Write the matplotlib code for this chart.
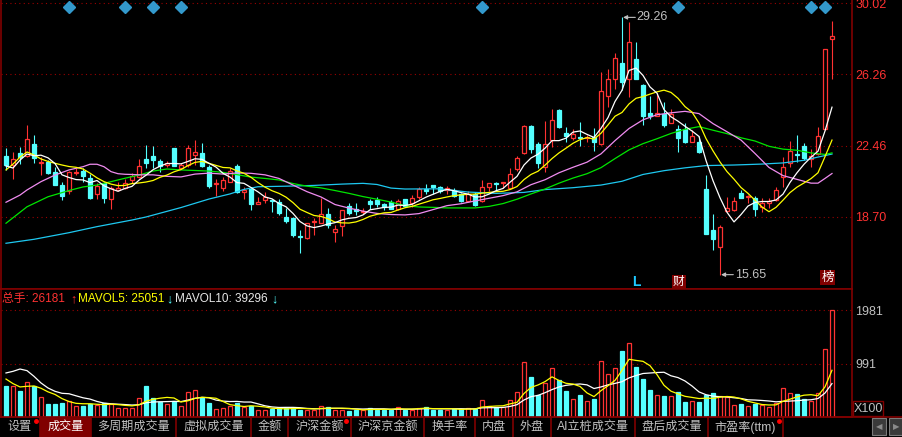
import numpy as np
import matplotlib
matplotlib.use("Agg")
import matplotlib.pyplot as plt
import matplotlib.transforms as mtransforms
from matplotlib.patches import Rectangle
from matplotlib.lines import Line2D

plt.rcParams['font.family'] = ['Liberation Sans', 'Noto Sans CJK SC', 'DejaVu Sans']

# ---- daily candles (price) ----
open_ = np.array([
    21.94, 21.45, 22.09, 21.94, 22.56, 21.56, 21.59, 21.10, 20.39, 20.08,
    21.04, 21.15, 20.75, 19.90, 20.48, 19.65, 20.13, 20.25, 20.66, 20.83,
    21.77, 21.94, 21.66, 21.45, 22.37, 21.31, 21.45, 21.98, 22.07, 21.36,
    20.43, 20.25, 20.57, 21.41, 20.01, 20.18, 19.37, 19.60, 19.58, 19.51,
    18.72, 18.66, 17.69, 17.57, 18.44, 18.37, 18.84, 17.92, 18.24, 19.30,
    19.10, 18.96, 19.55, 19.60, 19.37, 19.48, 19.12, 19.65, 19.46, 19.77,
    20.18, 20.39, 20.27, 20.13, 20.13, 19.92, 19.55, 19.92, 19.55, 20.30,
    20.50, 20.50, 20.25, 21.24, 22.07, 23.51, 22.55, 21.36, 22.77, 24.36,
    23.16, 22.86, 22.93, 22.88, 22.95, 22.55, 25.10, 26.00, 26.86, 25.98,
    27.04, 25.68, 24.19, 24.06, 24.13, 23.66, 23.36, 23.36, 22.65, 22.65,
    20.18, 18.01, 17.13, 19.02, 19.07, 19.99, 19.74, 19.69, 19.25, 19.42,
    19.60, 20.83, 21.57, 22.03, 22.46, 21.77, 22.02, 23.34, 28.10])
high = np.array([
    22.37, 22.14, 22.42, 23.57, 23.04, 21.87, 21.71, 21.36, 20.57, 21.15,
    21.28, 21.28, 20.97, 20.48, 20.57, 20.36, 20.57, 20.69, 21.04, 21.75,
    22.51, 22.46, 21.77, 21.66, 22.37, 21.54, 22.51, 22.77, 22.63, 21.45,
    20.71, 20.83, 21.31, 21.50, 20.27, 20.30, 19.77, 20.02, 19.64, 19.65,
    19.16, 18.72, 18.01, 18.38, 18.63, 19.72, 19.16, 18.28, 19.07, 19.42,
    19.42, 19.16, 19.65, 19.74, 19.42, 19.60, 19.65, 19.65, 19.86, 20.30,
    20.43, 20.39, 20.36, 20.34, 20.25, 19.99, 20.08, 20.01, 20.66, 20.48,
    20.54, 20.57, 21.31, 21.93, 23.57, 23.57, 22.68, 23.79, 24.41, 24.40,
    23.48, 23.34, 23.71, 23.04, 23.42, 26.39, 26.51, 27.39, 29.26, 29.00,
    27.94, 25.74, 25.10, 25.28, 24.80, 24.40, 23.57, 23.66, 23.30, 23.01,
    20.92, 18.86, 18.28, 19.74, 19.74, 20.13, 19.86, 19.83, 19.72, 19.69,
    20.30, 21.89, 22.72, 23.04, 22.60, 22.30, 23.48, 27.57, 29.07])
low = np.array([
    21.19, 20.71, 21.49, 21.89, 21.54, 20.92, 20.97, 20.38, 19.60, 19.90,
    20.92, 20.57, 19.65, 19.65, 19.46, 19.12, 20.08, 20.18, 20.51, 20.78,
    21.31, 21.31, 21.10, 21.36, 21.41, 21.24, 21.36, 21.45, 21.36, 20.25,
    19.83, 20.08, 20.54, 19.95, 19.65, 19.07, 19.37, 19.42, 18.96, 18.81,
    18.40, 17.66, 16.81, 17.54, 17.75, 18.37, 18.10, 17.39, 17.71, 18.81,
    18.81, 18.84, 19.12, 19.21, 19.07, 19.12, 19.07, 19.25, 19.25, 19.64,
    19.92, 19.92, 19.99, 19.90, 19.77, 19.51, 19.51, 19.30, 19.51, 20.09,
    20.08, 20.22, 20.22, 21.15, 22.03, 22.10, 21.28, 21.10, 22.42, 23.42,
    22.68, 22.77, 22.46, 22.68, 22.21, 22.51, 24.53, 25.47, 25.42, 25.06,
    26.00, 23.57, 23.87, 24.04, 23.45, 23.66, 22.12, 22.60, 22.65, 22.07,
    17.78, 16.95, 15.65, 18.98, 19.03, 19.69, 19.46, 18.77, 18.95, 19.16,
    19.55, 20.30, 21.36, 21.63, 21.71, 21.33, 21.98, 23.30, 26.00])
close = np.array([
    21.45, 21.75, 21.89, 22.83, 21.81, 21.61, 21.01, 20.39, 19.83, 21.10,
    21.08, 20.88, 19.72, 20.36, 19.72, 20.25, 20.25, 20.48, 20.88, 21.40,
    21.54, 21.71, 21.41, 21.57, 21.41, 21.45, 22.33, 22.14, 21.41, 20.36,
    20.48, 20.66, 21.13, 20.01, 20.13, 19.37, 19.51, 19.77, 19.53, 18.90,
    18.49, 17.75, 17.64, 18.37, 18.49, 18.84, 18.28, 18.05, 19.07, 18.90,
    19.04, 19.00, 19.39, 19.39, 19.21, 19.12, 19.55, 19.28, 19.69, 20.17,
    20.08, 20.27, 20.08, 20.22, 19.81, 19.55, 19.92, 19.33, 20.27, 20.48,
    20.45, 20.54, 20.96, 21.81, 23.51, 22.28, 21.54, 22.55, 23.83, 23.48,
    22.98, 23.09, 22.88, 22.92, 22.68, 25.37, 25.98, 27.10, 25.86, 27.94,
    26.00, 24.04, 24.06, 24.22, 23.57, 24.13, 22.89, 22.68, 23.01, 22.12,
    17.78, 17.52, 18.19, 19.16, 19.55, 19.72, 19.80, 19.11, 19.42, 19.55,
    20.13, 21.36, 22.19, 21.98, 21.81, 21.94, 23.01, 27.57, 28.27])

# volume (x100)
volume = np.array([
    583, 583, 490, 651, 571, 373, 249, 249, 267, 298,
    205, 212, 249, 218, 261, 249, 175, 175, 175, 354,
    583, 354, 280, 249, 298, 212, 465, 503, 354, 267,
    150, 168, 205, 267, 187, 212, 131, 131, 150, 168,
    169, 169, 137, 137, 137, 212, 193, 137, 137, 119,
    137, 137, 169, 137, 137, 137, 193, 137, 137, 169,
    193, 137, 137, 137, 150, 143, 168, 143, 323, 200,
    187, 187, 323, 465, 1022, 750, 416, 633, 911, 682,
    490, 342, 416, 305, 342, 1041, 800, 911, 1233, 1375,
    936, 713, 509, 404, 385, 385, 465, 280, 305, 280,
    416, 447, 397, 366, 230, 249, 212, 249, 218, 187,
    261, 540, 447, 435, 342, 305, 447, 1264, 1981])

# moving averages
ma5 = np.array([
    21.40, 21.29, 21.71, 22.03, 21.94, 21.97, 21.83, 21.53, 20.93, 20.79,
    20.68, 20.66, 20.52, 20.63, 20.35, 20.19, 20.06, 20.21, 20.32, 20.65,
    20.91, 21.20, 21.39, 21.53, 21.53, 21.51, 21.64, 21.78, 21.75, 21.54,
    21.34, 21.01, 20.81, 20.52, 20.48, 20.26, 20.03, 19.76, 19.66, 19.41,
    19.24, 18.89, 18.46, 18.23, 18.14, 18.22, 18.33, 18.40, 18.55, 18.63,
    18.67, 18.81, 19.08, 19.14, 19.21, 19.22, 19.33, 19.31, 19.37, 19.56,
    19.75, 19.90, 20.05, 20.16, 20.09, 19.99, 19.91, 19.76, 19.77, 19.91,
    20.09, 20.21, 20.54, 20.85, 21.45, 21.82, 22.02, 22.34, 22.74, 22.74,
    22.87, 23.19, 23.25, 23.07, 22.91, 23.39, 23.96, 24.81, 25.40, 26.45,
    26.58, 26.19, 25.58, 25.25, 24.38, 24.00, 23.77, 23.50, 23.25, 22.96,
    21.69, 20.62, 19.72, 18.95, 18.44, 18.83, 19.28, 19.47, 19.52, 19.52,
    19.60, 19.91, 20.53, 21.04, 21.49, 21.86, 22.18, 23.25, 24.51])
ma10 = np.array([
    21.19, 21.50, 21.87, 22.14, 21.98, 21.77, 21.64, 21.54, 21.45, 21.37,
    21.33, 21.24, 21.02, 20.77, 20.57, 20.44, 20.36, 20.37, 20.47, 20.50,
    20.55, 20.63, 20.80, 20.92, 21.09, 21.21, 21.42, 21.59, 21.64, 21.54,
    21.43, 21.32, 21.30, 21.14, 21.01, 20.80, 20.52, 20.28, 20.09, 19.95,
    19.75, 19.46, 19.11, 18.94, 18.78, 18.73, 18.61, 18.43, 18.39, 18.38,
    18.44, 18.57, 18.74, 18.84, 18.92, 18.94, 19.07, 19.19, 19.26, 19.38,
    19.49, 19.61, 19.68, 19.76, 19.83, 19.87, 19.90, 19.91, 19.96, 20.00,
    20.04, 20.06, 20.15, 20.31, 20.68, 20.95, 21.12, 21.44, 21.79, 22.09,
    22.34, 22.60, 22.79, 22.90, 22.82, 23.13, 23.57, 24.03, 24.23, 24.68,
    24.98, 25.07, 25.20, 25.32, 25.41, 25.29, 24.98, 24.54, 24.25, 23.67,
    22.85, 22.20, 21.61, 21.10, 20.70, 20.26, 19.95, 19.59, 19.23, 18.98,
    19.21, 19.59, 19.99, 20.28, 20.50, 20.73, 21.04, 21.89, 22.77])
ma20_idx = [0, 2, 3, 5, 7, 9, 11, 12, 13, 14, 15, 16, 17, 18, 19, 21, 23, 25, 27,
            29, 31, 33, 35, 37, 39, 41, 43, 45, 47, 49, 51, 53, 55, 57, 59, 61,
            63, 65, 67, 69, 71, 73, 75, 77, 79, 81, 83, 85, 87, 89, 91, 93, 95,
            97, 99, 101, 103, 105, 107, 109, 111, 113, 115, 116, 117, 118]
ma20 = [19.48, 19.86, 20.13, 20.57, 20.92, 21.19, 21.36, 21.49, 21.49, 21.36,
        21.10, 20.99, 20.96, 20.95, 20.93, 20.93, 20.85, 20.82, 20.97, 21.02,
        20.97, 21.03, 21.01, 20.93, 20.74, 20.39, 20.04, 19.76, 19.36, 19.17,
        19.01, 18.89, 18.83, 18.81, 18.88, 19.09, 19.30, 19.40, 19.55, 19.69,
        19.83, 20.03, 20.41, 20.67, 21.04, 21.33, 21.60, 22.04, 22.74, 23.38,
        23.84, 24.11, 24.21, 24.29, 24.17, 23.64, 23.21, 22.77, 22.06, 21.32,
        20.89, 20.69, 20.49, 20.49, 20.74, 21.00]
ma30_idx = [0, 3, 6, 9, 11, 13, 15, 17, 19, 21, 23, 25, 27, 29, 31, 33, 35, 37,
            39, 41, 43, 45, 47, 49, 51, 53, 55, 57, 59, 61, 63, 65, 67, 69, 71,
            73, 75, 77, 79, 81, 83, 85, 87, 89, 91, 93, 95, 97, 99, 101, 103,
            105, 107, 109, 111, 113, 115, 117, 118]
ma30 = [18.37, 19.24, 19.77, 20.10, 20.29, 20.39, 20.57, 20.75, 20.92, 21.13,
        21.24, 21.19, 21.16, 21.13, 21.06, 20.94, 20.81, 20.74, 20.66, 20.47,
        20.33, 20.24, 20.10, 19.95, 19.78, 19.64, 19.49, 19.30, 19.23, 19.21,
        19.18, 19.18, 19.18, 19.26, 19.41, 19.64, 19.92, 20.18, 20.49, 20.76,
        20.99, 21.31, 21.79, 22.25, 22.58, 22.84, 23.12, 23.34, 23.48, 23.29,
        23.11, 22.89, 22.72, 22.44, 22.29, 22.23, 22.09, 22.01, 22.09]
ma60_idx = [0, 4, 9, 13, 18, 20, 25, 29, 32, 34, 36, 40, 44, 48, 51, 53, 55, 57,
            62, 66, 70, 74, 77, 81, 85, 88, 91, 94, 97, 100, 104, 108, 111, 114,
            116, 118]
ma60 = [17.31, 17.52, 17.87, 18.19, 18.54, 18.70, 19.20, 19.65, 19.92, 20.16,
        20.30, 20.33, 20.37, 20.44, 20.48, 20.42, 20.23, 20.18, 20.19, 20.02,
        19.95, 20.00, 20.15, 20.25, 20.39, 20.59, 20.95, 21.15, 21.30, 21.42,
        21.45, 21.50, 21.56, 21.70, 21.87, 22.03]

mavol5 = np.array([
    705, 620, 558, 570, 576, 534, 467, 419, 342, 287,
    254, 246, 246, 236, 229, 238, 230, 216, 207, 226,
    292, 328, 349, 364, 353, 279, 301, 345, 366, 360,
    348, 288, 229, 211, 195, 208, 200, 186, 162, 158,
    150, 157, 159, 156, 150, 158, 163, 163, 163, 160,
    145, 133, 140, 140, 143, 143, 155, 148, 148, 155,
    166, 155, 155, 155, 151, 141, 147, 148, 185, 195,
    204, 208, 244, 272, 437, 549, 595, 657, 746, 678,
    626, 612, 568, 447, 379, 489, 581, 680, 865, 1072,
    1051, 1034, 953, 787, 589, 479, 430, 384, 364, 343,
    349, 346, 369, 381, 371, 338, 291, 261, 232, 223,
    225, 291, 331, 374, 405, 414, 395, 559, 868])
mavol10 = np.array([
    818, 848, 891, 861, 755, 632, 539, 477, 440, 432,
    394, 357, 333, 289, 258, 246, 238, 231, 222, 228,
    265, 279, 283, 286, 290, 286, 315, 347, 365, 357,
    314, 295, 287, 289, 278, 278, 244, 208, 187, 177,
    179, 179, 173, 159, 154, 154, 160, 161, 160, 155,
    152, 148, 152, 152, 152, 144, 144, 144, 144, 149,
    155, 155, 152, 152, 153, 154, 151, 152, 170, 173,
    173, 178, 196, 229, 316, 377, 402, 451, 509, 558,
    588, 604, 613, 597, 529, 558, 597, 624, 656, 726,
    770, 808, 817, 826, 831, 765, 732, 669, 576, 466,
    414, 388, 377, 373, 357, 344, 319, 315, 307, 297,
    282, 291, 296, 303, 314, 320, 343, 445, 621])

price_ticks = [30.02, 26.26, 22.46, 18.70]
vol_ticks = [991, 1981]
signal_idx = [9, 17, 21, 25, 68, 96, 115, 117]
hi_idx, lo_idx = 88, 102

tabs = ['设置', '成交量', '多周期成交量', '虚拟成交量', '金额', '沪深金额', '沪深京金额',
        '换手率', '内盘', '外盘', 'AI立桩成交量', '盘后成交量', '市盈率(ttm)']
tab_edges = [0, 40, 91, 176, 251, 288, 351, 424, 475, 513, 551, 635, 708, 783]

RED = '#ff3232'
CYAN = '#54ffff'
DKRED = '#800000'
GRID = '#9a0000'
GRAY = '#c0c0c0'
BODY_W = 0.64

W, H = 903, 437
fig = plt.figure(figsize=(W / 100, H / 100), dpi=100, facecolor='black')

def fx(x):
    return x / W

def fy(y):
    return 1 - y / H

n = len(close)
idx = np.arange(n)
up = close >= open_

ax = fig.add_axes([fx(1), fy(289), 851 / W, 289 / H], facecolor='black')
ax2 = fig.add_axes([fx(1), fy(417), 851 / W, 128 / H], facecolor='black')
for a in (ax, ax2):
    a.set_xlim(-5 / 7, 846 / 7)
    a.set_xticks([])
    for s in a.spines.values():
        s.set_color(DKRED)
        s.set_linewidth(1.2)
    a.spines['top'].set_visible(False)
    a.yaxis.tick_right()
    a.tick_params(axis='y', length=0, pad=2.5, labelsize=9)

ax.set_ylim(14.891, 30.179)
ax2.set_ylim(0, 2377)
ax2.spines['top'].set_visible(True)

# grid
for p in price_ticks:
    ax.axhline(p, color=GRID, lw=0.8, ls=(0, (1, 3)), zorder=1)
for v in vol_ticks:
    ax2.axhline(v, color=GRID, lw=0.8, ls=(0, (1, 3)), zorder=1)

ax.set_yticks(price_ticks)
ax.set_yticklabels(['%.2f' % p for p in price_ticks])
ax.tick_params(axis='y', labelcolor=RED)
ax2.set_yticks(vol_ticks)
ax2.set_yticklabels([str(v) for v in vol_ticks])
ax2.tick_params(axis='y', labelcolor=GRAY)

# candles
ax.vlines(idx[up], low[up], high[up], color=RED, lw=0.8, zorder=3)
ax.vlines(idx[~up], low[~up], high[~up], color=CYAN, lw=0.8, zorder=3)
blo = np.minimum(open_, close)
bh = np.abs(close - open_)
ax.bar(idx[up], bh[up], bottom=blo[up], width=BODY_W, facecolor='black',
       edgecolor=RED, lw=0.9, zorder=4)
ax.bar(idx[~up], bh[~up], bottom=blo[~up], width=BODY_W, facecolor=CYAN,
       edgecolor=CYAN, lw=0.9, zorder=4)

# moving averages
ax.plot(ma60_idx, ma60, color='#1ec8f0', lw=0.9, zorder=5)
ax.plot(ma30_idx, ma30, color='#00e600', lw=0.9, zorder=5)
ax.plot(ma20_idx, ma20, color='#f08cf0', lw=0.9, zorder=5)
ax.plot(idx, ma10, color='#ffff00', lw=0.9, zorder=5)
ax.plot(idx, ma5, color='white', lw=0.9, zorder=5)

# signals on top
top = mtransforms.blended_transform_factory(ax.transData, ax.transAxes)
ax.plot(signal_idx, [0.975] * len(signal_idx), ls='none', marker='D', ms=6,
        color='#3399cc', transform=top, zorder=6, clip_on=False)

# high / low tags
for k, val in ((hi_idx, high[hi_idx]), (lo_idx, low[lo_idx])):
    ax.annotate('', xy=(k + 0.15, val), xytext=(k + 1.9, val),
                arrowprops=dict(arrowstyle='-|>', color=GRAY, lw=0.8, mutation_scale=6,
                                shrinkA=0, shrinkB=0), zorder=6)
    ax.text(k + 2.1, val, '%.2f' % val, color=GRAY, fontsize=9,
            va='center', ha='left', zorder=6)

# event marks at the bottom of price panel
ax.text(90, 0.025, 'L', transform=top, color='#1ec8ff', fontsize=10, fontweight='bold',
        ha='center', va='center')
ax.text(96.1, 0.025, '财', transform=top, color='white', fontsize=8.5, ha='center',
        va='center', bbox=dict(boxstyle='square,pad=0.08', fc=DKRED, ec='none'))
ax.text(117.4, 0.04, '榜', transform=top, color='white', fontsize=9, ha='center',
        va='center', bbox=dict(boxstyle='square,pad=0.1', fc=DKRED, ec='none'))

# volume
ax2.bar(idx[up], volume[up], width=BODY_W, facecolor='black', edgecolor=RED, lw=0.9, zorder=3)
ax2.bar(idx[~up], volume[~up], width=BODY_W, facecolor=CYAN, edgecolor=CYAN, lw=0.9, zorder=3)
ax2.plot(idx, mavol10, color='white', lw=0.9, zorder=4)
ax2.plot(idx, mavol5, color='#ffff00', lw=0.9, zorder=4)

# volume legend
ly = fy(299)
fig.text(fx(2), ly, '总手: 26181', color=RED, fontsize=8.5, va='center')
fig.text(fx(73.5), ly, '↑', color=RED, fontsize=9, fontweight='bold', va='center',
         ha='center')
fig.text(fx(78), ly, 'MAVOL5: 25051', color='#ffff00', fontsize=8.5, va='center')
fig.text(fx(169.5), ly, '↓', color=CYAN, fontsize=9, fontweight='bold', va='center',
         ha='center')
fig.text(fx(175), ly, 'MAVOL10: 39296', color='#e8e8e8', fontsize=8.5, va='center')
fig.text(fx(274.5), ly, '↓', color=CYAN, fontsize=9, fontweight='bold', va='center',
         ha='center')

# X100 box
fig.add_artist(Rectangle((fx(853), fy(416)), 30 / W, 15 / H, transform=fig.transFigure,
                         fc='black', ec=DKRED, lw=1))
fig.text(fx(868), fy(408.5), 'X100', color=GRAY, fontsize=9, ha='center', va='center')

# tab bar
fig.add_artist(Line2D([0, 1], [fy(417), fy(417)], transform=fig.transFigure, color=DKRED, lw=1.2))
fig.add_artist(Rectangle((fx(tab_edges[1]), 0), (tab_edges[2] - tab_edges[1]) / W, fy(417.5),
                         transform=fig.transFigure, fc=DKRED, ec='none'))
for e in tab_edges[1:]:
    fig.add_artist(Line2D([fx(e), fx(e)], [0, fy(417)], transform=fig.transFigure,
                          color=DKRED, lw=1.2))
for k, name in enumerate(tabs):
    cx = (tab_edges[k] + tab_edges[k + 1]) / 2
    fig.text(fx(cx), fy(427), name, color='white' if k == 1 else GRAY, fontsize=8.7,
             ha='center', va='center')
dot_x = [36, 346, 779]
for d in dot_x:
    fig.add_artist(Line2D([fx(d)], [fy(421)], transform=fig.transFigure, marker='o',
                          ms=2.5, color='red', ls='none'))

# scroll buttons
for bx, sym in ((872, '◀'), (889, '▶')):
    fig.add_artist(Rectangle((fx(bx), fy(435)), 14 / W, 17 / H, transform=fig.transFigure,
                             fc='#3a3a3a', ec='#7a7a7a', lw=0.8))
    fig.text(fx(bx + 7), fy(426.5), sym, color='#8a8a8a', fontsize=6, ha='center',
             va='center', family='DejaVu Sans')

fig.savefig('out.png', dpi=100, facecolor='black')
